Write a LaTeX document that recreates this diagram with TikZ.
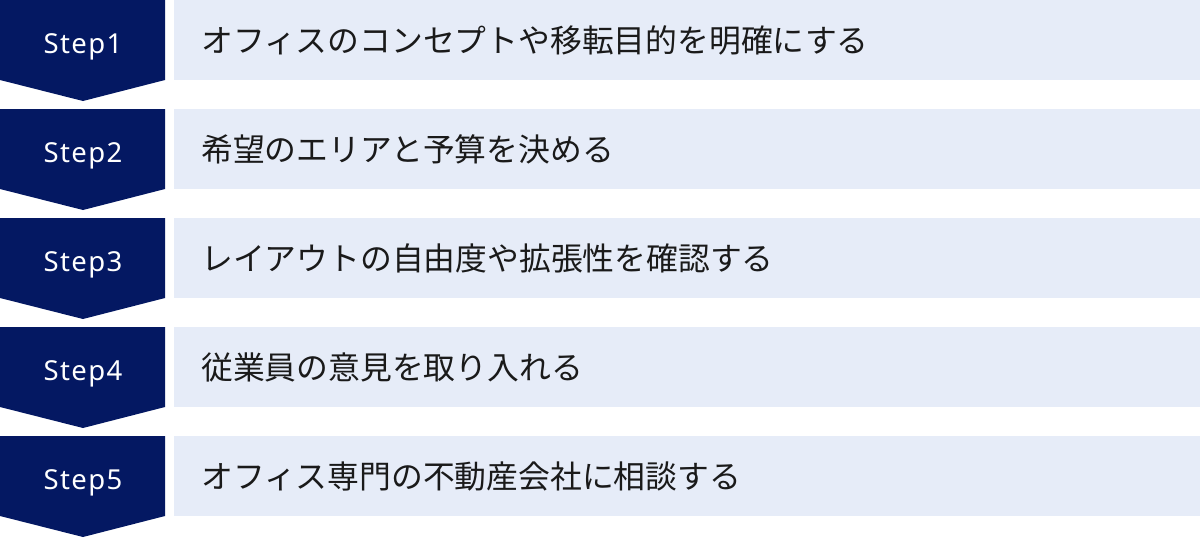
\documentclass[tikz,border=0pt]{standalone}
\usepackage{fontspec}
\newfontfamily\jpfont{Noto Sans CJK JP}
\newfontfamily\stepfont[LetterSpace=5]{Noto Sans}
\definecolor{navy}{HTML}{041862}
\definecolor{lightband}{HTML}{E6ECF8}
\definecolor{ink}{HTML}{1A1A1A}
\begin{document}
\begin{tikzpicture}[x=1pt,y=1pt,
  chevron/.style={fill=navy,draw=none},
  band/.style={fill=lightband,draw=none},
  steplabel/.style={text=white,font=\stepfont\fontsize{27.5}{34}\selectfont,inner sep=0pt,anchor=base},
  desc/.style={text=ink,font=\jpfont\fontsize{31.8}{38}\selectfont,inner sep=0pt,anchor=west}]
\useasboundingbox (0,0) rectangle (1200,-538);
\foreach \i/\lab/\txt in {0/Step1/オフィスのコンセプトや移転目的を明確にする,
                          1/Step2/希望のエリアと予算を決める,
                          2/Step3/レイアウトの自由度や拡張性を確認する,
                          3/Step4/従業員の意見を取り入れる,
                          4/Step5/オフィス専門の不動産会社に相談する}{
  \pgfmathsetmacro{\t}{-109*\i}
  \fill[chevron] (0,\t) -- (165,\t) -- (165,\t-80) -- (83,\t-101) -- (0,\t-80) -- cycle;
  \fill[band] (174,\t) rectangle (1200,\t-80);
  \node[steplabel] (s\i) at (83,\t-53.5) {\lab};
  \node[desc] (d\i) at (201,\t-40) {\txt};
}
\end{tikzpicture}
\end{document}
